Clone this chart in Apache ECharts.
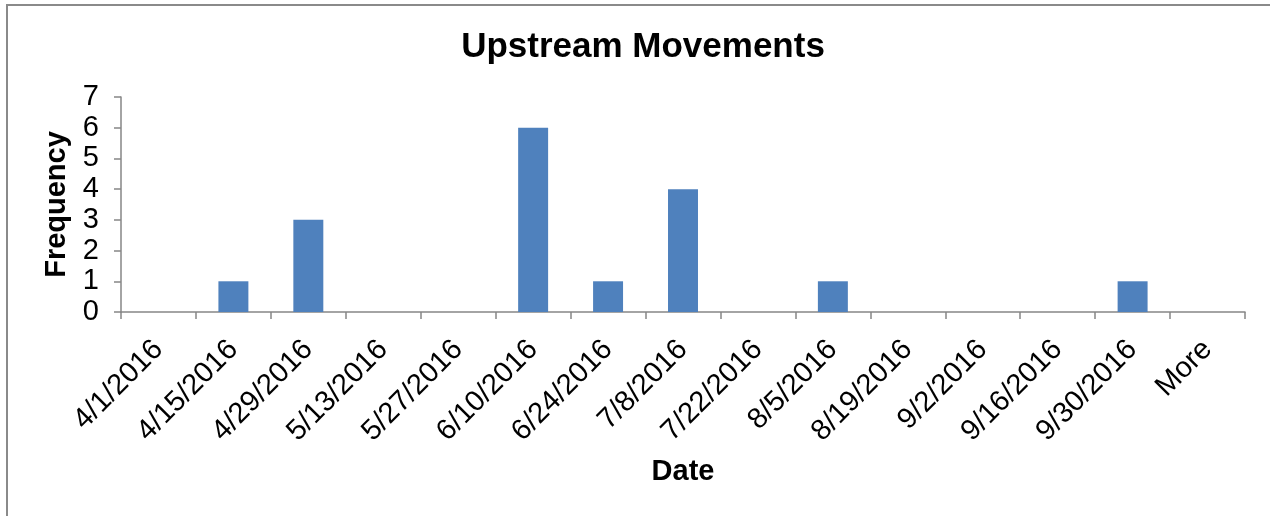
<!DOCTYPE html>
<html><head><meta charset="utf-8">
<script src="https://cdn.jsdelivr.net/npm/echarts@6/dist/echarts.min.js"></script>
<style>html,body{margin:0;padding:0;background:#fff}#c{width:1270px;height:516px}</style>
</head><body><div id="c"></div>
<script>
const categories = ['4/1/2016','4/15/2016','4/29/2016','5/13/2016','5/27/2016','6/10/2016','6/24/2016','7/8/2016','7/22/2016','8/5/2016','8/19/2016','9/2/2016','9/16/2016','9/30/2016','More'];
const frequency = [0,1,3,0,0,6,1,4,0,1,0,0,0,1,0];
const yTicks = [0,1,2,3,4,5,6,7];
const chart = echarts.init(document.getElementById('c'));
const font = 'Liberation Sans, Arial, sans-serif';
chart.setOption({
  animation:false,
  graphic:[{type:'rect',shape:{x:7,y:5,width:1300,height:600},style:{fill:'none',stroke:'#8a8a8a',lineWidth:2}}],
  title:{text:'Upstream Movements',left:638,top:25,textAlign:'center',textStyle:{fontFamily:font,fontSize:35,fontWeight:'bold',color:'#000'}},
  grid:{left:121,right:25,top:97,bottom:204,containLabel:false},
  xAxis:{type:'category',data:categories,boundaryGap:true,
    name:'Date',nameLocation:'middle',nameGap:145,
    nameTextStyle:{fontFamily:font,fontSize:29,fontWeight:'bold',color:'#000'},
    axisLine:{lineStyle:{color:'#868686',width:1.5}},
    axisTick:{show:true,length:7,alignWithLabel:false,lineStyle:{color:'#868686',width:1.5}},
    axisLabel:{rotate:45,margin:33,interval:0,fontFamily:font,fontSize:29,color:'#000'}},
  yAxis:{type:'value',min:yTicks[0],max:yTicks[yTicks.length-1],interval:1,
    name:'Frequency',nameLocation:'middle',nameRotate:90,nameGap:50,
    nameTextStyle:{fontFamily:font,fontSize:29,fontWeight:'bold',color:'#000'},
    splitLine:{show:false},
    axisLine:{show:true,lineStyle:{color:'#868686',width:1.5}},
    axisTick:{show:true,length:7,lineStyle:{color:'#868686',width:1.5}},
    axisLabel:{margin:22,fontFamily:font,fontSize:29,color:'#000'}},
  series:[{type:'bar',data:frequency,barWidth:'40%',itemStyle:{color:'#4F81BD'}}]
});
</script></body></html>
